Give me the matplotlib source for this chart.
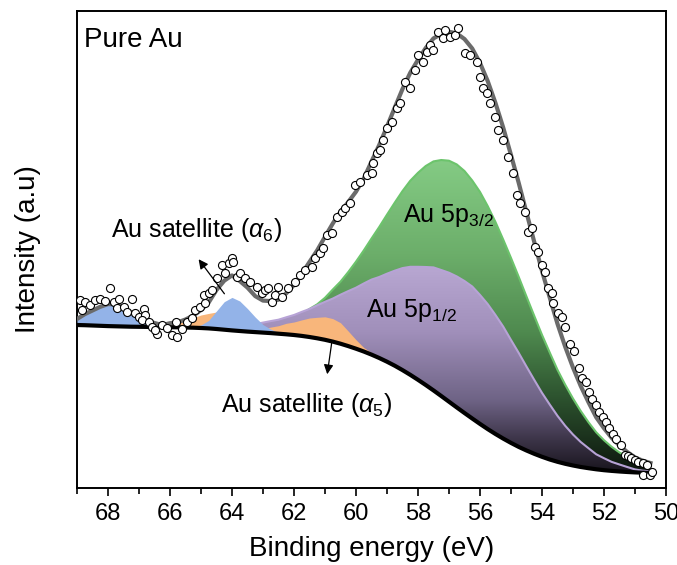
import numpy as np
import matplotlib
matplotlib.use("Agg")
import matplotlib.pyplot as plt
from matplotlib.colors import LinearSegmentedColormap

plt.rcParams['font.family'] = ['Liberation Sans', 'DejaVu Sans']
plt.rcParams['mathtext.fontset'] = 'custom'
plt.rcParams['mathtext.rm'] = 'Liberation Sans'
plt.rcParams['mathtext.it'] = 'Liberation Sans:italic'

###################  data  ######

# binding energy grid of the fit (eV), 0.25 eV steps
energy = [69.0, 68.75, 68.5, 68.25, 68.0, 67.75, 67.5, 67.25, 67.0, 66.75,
          66.5, 66.25, 66.0, 65.75, 65.5, 65.25, 65.0, 64.75, 64.5, 64.25,
          64.0, 63.75, 63.5, 63.25, 63.0, 62.75, 62.5, 62.25, 62.0, 61.75,
          61.5, 61.25, 61.0, 60.75, 60.5, 60.25, 60.0, 59.75, 59.5, 59.25,
          59.0, 58.75, 58.5, 58.25, 58.0, 57.75, 57.5, 57.25, 57.0, 56.75,
          56.5, 56.25, 56.0, 55.75, 55.5, 55.25, 55.0, 54.75, 54.5, 54.25,
          54.0, 53.75, 53.5, 53.25, 53.0, 52.75, 52.5, 52.25, 52.0, 51.75,
          51.5, 51.25, 51.0, 50.75, 50.5]

# Shirley background (a.u.)
background = [163.0, 162.8, 162.5, 162.2, 161.9, 161.7, 161.5, 161.3, 161.2, 161.1,
              161.0, 160.9, 160.8, 160.7, 160.5, 160.3, 160.0, 159.6, 159.0, 158.3,
              157.6, 157.0, 156.4, 155.9, 155.4, 154.9, 154.3, 153.7, 153.0, 152.1,
              151.0, 149.7, 148.2, 146.4, 144.3, 141.9, 139.3, 136.5, 133.4, 130.0,
              126.3, 122.3, 117.9, 113.2, 108.2, 103.0, 97.6, 92.0, 86.3, 80.6,
              75.0, 69.5, 64.1, 58.9, 54.0, 49.4, 45.1, 41.1, 37.5, 34.2,
              31.2, 28.5, 26.2, 24.2, 22.5, 21.0, 19.8, 18.7, 17.8, 17.1,
              16.5, 16.0, 15.6, 15.3, 15.0]

# fitted components, height above background (a.u.)
au_5p32 = [0] * 17 + [1, 1, 1, 2, 2, 3, 4, 6, 8, 10,
                      13, 17, 22, 28, 34, 42, 52, 62, 74, 87,
                      101, 116, 131, 147, 163, 179, 194, 207, 219, 229,
                      236, 241, 243, 242, 238, 232, 223, 212, 199, 185,
                      170, 154, 138, 122, 107, 92, 79, 67, 56, 46,
                      37, 30, 24, 19, 15, 12, 10, 8]
au_5p12 = [0] * 12 + [1, 1, 1, 1, 2, 2, 3, 3, 4, 5,
                      7, 8, 10, 12, 14, 17, 20, 24, 28, 33,
                      38, 43, 49, 55, 61, 68, 75, 81, 88, 95,
                      102, 108, 113, 118, 123, 126, 129, 131, 132, 132,
                      129, 125, 119, 112, 103, 94, 84, 74, 64, 55,
                      46, 38, 31, 25, 20, 15, 12, 9, 7, 5,
                      3, 2, 2]
sat_orange_64 = [0] * 10 + [1, 1, 2, 4, 7, 10, 13, 15, 17, 17,
                            15, 12, 9, 6, 4, 2, 1] + [0] * 48
sat_alpha5 = [0] * 20 + [1, 1, 2, 3, 4, 6, 8, 11, 13, 16,
                         19, 21, 23, 23, 21, 15, 9, 4, 2, 1] + [0] * 35
sat_blue_68 = [6, 11, 15, 19, 22, 22, 19, 14, 10, 6, 3, 1, 1] + [0] * 62
sat_alpha6 = [0] * 15 + [1, 3, 8, 18, 28, 33, 30, 23, 15, 8, 4, 1] + [0] * 48

# measured spectrum (open circles)
data_E = [68.90, 68.74, 68.84, 68.58, 68.42, 68.26, 68.10, 67.94, 67.81, 67.65, 67.71, 67.48, 67.39, 67.23,
          67.13, 67.00, 66.84, 66.81, 66.90, 66.68, 66.58, 66.42, 66.48, 66.26, 66.10, 65.94, 65.77, 65.81,
          65.61, 65.45, 65.29, 65.19, 65.03, 64.87, 64.90, 64.74, 64.65, 64.48, 64.32, 64.23, 64.10, 64.00,
          63.97, 63.84, 63.74, 63.58, 63.42, 63.19, 63.03, 62.94, 62.84, 62.71, 62.61, 62.52, 62.39, 62.19,
          61.97, 61.81, 61.65, 61.42, 61.32, 61.16, 61.06, 60.94, 60.77, 60.61, 60.45, 60.35, 60.19, 60.03,
          59.87, 59.65, 59.48, 59.45, 59.32, 59.23, 59.13, 59.00, 58.84, 58.68, 58.58, 58.42, 58.26, 58.10,
          58.00, 57.84, 57.71, 57.61, 57.52, 57.35, 57.19, 57.13, 56.97, 56.81, 56.71, 56.48, 56.32, 56.10,
          56.00, 55.90, 55.77, 55.68, 55.52, 55.42, 55.26, 55.10, 54.94, 54.81, 54.71, 54.55, 54.45, 54.32,
          54.23, 54.13, 54.00, 53.90, 53.81, 53.68, 53.65, 53.48, 53.35, 53.26, 53.10, 52.97, 52.81, 52.71,
          52.58, 52.48, 52.39, 52.26, 52.16, 52.03, 51.94, 51.84, 51.71, 51.61, 51.45, 51.32, 51.23, 51.13,
          51.00, 50.90, 50.74, 50.61, 50.74, 50.52, 50.45]
data_I = [188, 186, 178, 183, 188, 189, 187, 200, 186, 189, 180, 181, 176, 189,
          175, 171, 179, 173, 168, 166, 161, 154, 158, 163, 160, 153, 151, 166,
          159, 166, 170, 178, 181, 185, 193, 195, 198, 210, 223, 215, 225, 230,
          226, 211, 215, 210, 206, 201, 195, 198, 200, 186, 193, 201, 191, 200,
          206, 213, 218, 221, 230, 235, 240, 253, 255, 271, 276, 280, 285, 303,
          306, 313, 315, 325, 335, 338, 348, 360, 366, 380, 385, 406, 400, 418,
          433, 426, 436, 443, 438, 456, 450, 458, 451, 453, 460, 435, 433, 426,
          411, 400, 395, 385, 371, 358, 348, 331, 315, 293, 285, 276, 256, 260,
          241, 236, 223, 216, 200, 195, 185, 175, 171, 161, 144, 137, 120, 110,
          106, 96, 89, 83, 76, 71, 66, 60, 54, 49, 43, 33, 32, 30,
          28, 26, 25, 23, 13, 13, 16]

E = np.array(energy)
bg = np.array(background)
comps = [np.array(c, dtype=float) for c in
         (au_5p32, au_5p12, sat_orange_64, sat_alpha5, sat_blue_68, sat_alpha6)]
envelope = bg + sum(comps)


def gradient_fill(ax, x, lower, upper, stops, z):
    # vertical colour gradient clipped to the area between lower and upper
    poly = ax.fill_between(x, lower, upper, color='none', lw=0)
    path = poly.get_paths()[0]
    cmap = LinearSegmentedColormap.from_list('grad', stops)
    grad = np.linspace(0, 1, 256).reshape(-1, 1)
    im = ax.imshow(grad, cmap=cmap, aspect='auto', origin='lower',
                   extent=[x[0], x[-1], lower.min(), upper.max()], zorder=z)
    im.set_clip_path(path, transform=ax.transData)


###################  plotting  ######
fig = plt.figure(figsize=(6.77, 5.65), dpi=100)
ax = fig.add_axes([0.1137, 0.1363, 0.8700, 0.8442])

green_stops = [(0, '#0c150d'), (0.25, '#2e5530'), (0.45, '#4f8a4f'), (0.7, '#6cae6a'), (1, '#84cb84')]
purple_stops = [(0, '#17131c'), (0.16, '#3c3448'), (0.35, '#6e6385'), (0.68, '#a08fba'), (1, '#b8a7d2')]

gradient_fill(ax, E, bg, bg + comps[0], green_stops, 1)
ax.plot(E, bg + comps[0], color='#6cc46c', lw=1.5, zorder=1.5)
gradient_fill(ax, E, bg, bg + comps[1], purple_stops, 2)
ax.plot(E, bg + comps[1], color='#b7a3d6', lw=1.5, zorder=2.5)
for c in (comps[2], comps[3]):
    ax.fill_between(E, bg, bg + c, where=c > 0, color='#f8b67b', lw=0, zorder=3)
for c in (comps[4], comps[5]):
    ax.fill_between(E, bg, bg + c, where=c > 0, color='#93b3e8', lw=0, zorder=3.2)
ax.plot(E, bg, color='black', lw=3, zorder=4)
ax.plot(E, envelope, color='#6b6b6b', lw=3, zorder=5)
ax.plot(data_E, data_I, 'o', mfc='white', mec='black', ms=5.8, mew=0.8, zorder=6)

ax.text(68.76, 448, 'Pure Au', fontsize=20, va='center', ha='left')
ax.text(57.0, 273, 'Au 5p$_{3/2}$', fontsize=18, ha='center', va='center', zorder=7)
ax.text(58.2, 178, 'Au 5p$_{1/2}$', fontsize=18, ha='center', va='center', zorder=7)
ax.text(65.13, 258, r'Au satellite ($\alpha_6$)', fontsize=18, ha='center', va='center')
ax.text(61.58, 83, r'Au satellite ($\alpha_5$)', fontsize=18, ha='center', va='center')
ax.annotate('', xy=(65.13, 231), xytext=(64.19, 192),
            arrowprops=dict(arrowstyle='-|>', color='black', lw=0.9, mutation_scale=14), zorder=7)
ax.annotate('', xy=(60.94, 111), xytext=(60.77, 148),
            arrowprops=dict(arrowstyle='-|>', color='black', lw=0.9, mutation_scale=14), zorder=7)

ax.set_xlim(69, 50)
ax.set_ylim(0, 477)
ax.set_xticks(np.arange(68, 49, -2))
ax.set_xticks(np.arange(69, 50, -2), minor=True)
ax.set_yticks([])
ax.tick_params(axis='x', direction='out', length=6, width=1.2, labelsize=17, pad=5)
ax.tick_params(axis='x', which='minor', direction='out', length=4, width=1.2)
for s in ax.spines.values():
    s.set_linewidth(1.4)
ax.set_xlabel('Binding energy (eV)', fontsize=20, labelpad=8)
ax.set_ylabel('Intensity (a.u)', fontsize=20, labelpad=26)

fig.savefig('out.png', dpi=100)
